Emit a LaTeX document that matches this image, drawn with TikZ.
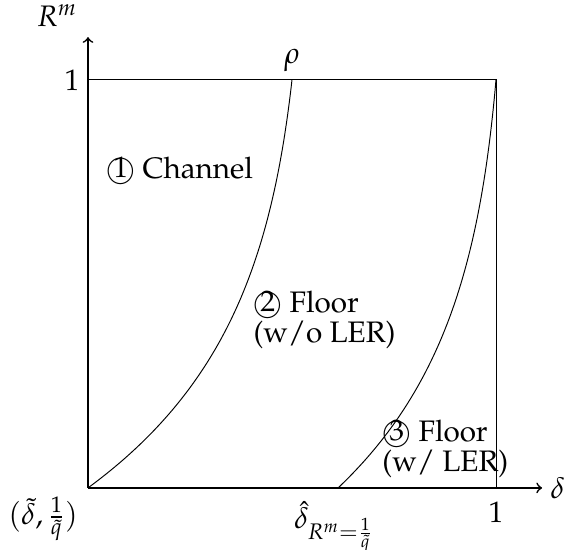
\documentclass[tikz,border=0pt]{standalone}
\usepackage[T1]{fontenc}
\usepackage{mathpazo}
\usepackage{amsmath}
\usetikzlibrary{calc,positioning}

\begin{document}
\begin{tikzpicture}[x=6cm,y=6cm,font=\fontsize{12.4}{8.6}\selectfont,
  axis/.style={->,line width=.7pt},
  region/.style={align=left,anchor=west}]
\useasboundingbox (-0.2157,-0.152) rectangle (1.1667,1.196);
\coordinate (O) at (0,0);
\coordinate (xtip) at (1.113,0);
\coordinate (ytip) at (0,1.105);
\coordinate (top) at (0,1);
\coordinate (corner) at (1,1);
\coordinate (right) at (1,0);
\coordinate (rhoend) at (0.5,1);
\coordinate (dhat) at (0.613,0);
% boundaries
\draw[thin] plot[domain=0:1,samples=60,smooth] ({0.5*(1-exp(-2.5*\x))/(1-exp(-2.5))},\x);
\draw[thin] plot[domain=0:1,samples=60,smooth] ({0.613+0.387*(1-exp(-2.5*\x))/(1-exp(-2.5))},\x);
\draw[thin] (top) -- (corner) -- (right);
\draw[axis] (O) -- (xtip);
\draw[axis] (O) -- (ytip);
% labels
\node (rm) at (-0.076,1.157) {$R^m$};
\node[left] (yone) at (top) {1};
\node[above] (rho) at (rhoend) {$\rho$};
\node[right] (delta) at (xtip) {$\delta$};
\node (xone) at (1,-0.059) {1};
\node (orig) at (-0.11,-0.076) {$(\tilde{\delta}, \frac{1}{\tilde{q}})$};
\node (dhatlbl) at (0.603,-0.095) {$\hat{\delta}_{R^m=\frac{1}{\tilde{q}}}$};
\node (channel) at (0.225,0.779) {\textcircled{1} Channel};
\node[region] (floor) at (0.385,0.412) {\textcircled{2} Floor\\(w/o LER)};
\node[region] (floorler) at (0.701,0.096) {\textcircled{3} Floor\\(w/ LER)};
\end{tikzpicture}
\end{document}
